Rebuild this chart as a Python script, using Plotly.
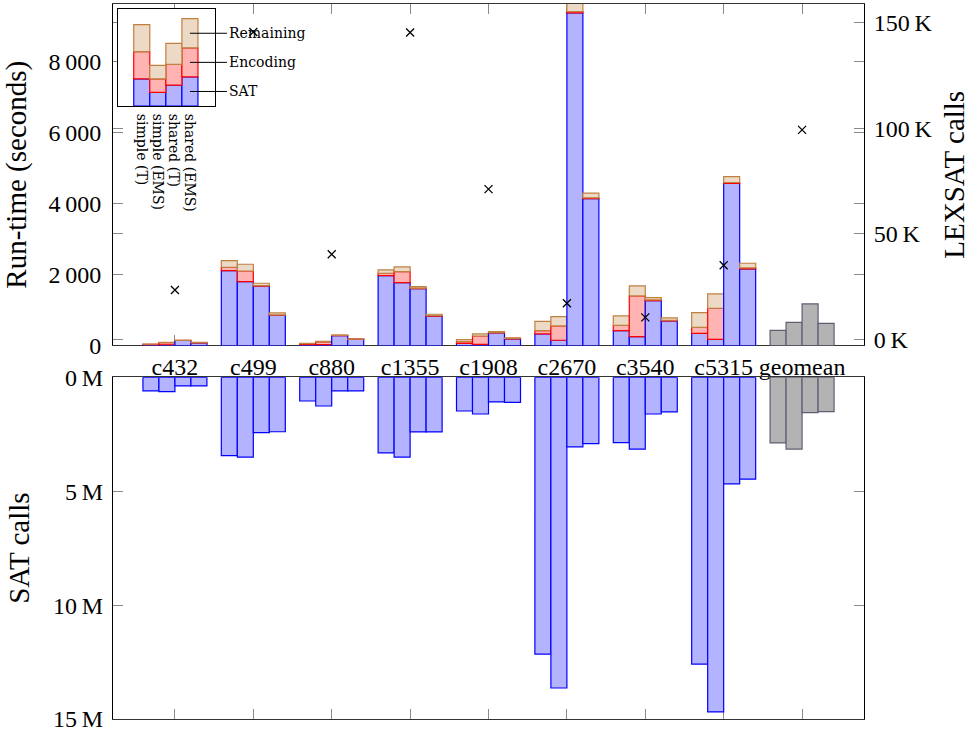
import numpy as np
import plotly.graph_objects as go

# ---------------- data ----------------
categories = ["c432", "c499", "c880", "c1355", "c1908", "c2670", "c3540", "c5315"]
x_labels = categories + ["geomean"]
configs = ["simple (T)", "simple (EMS)", "shared (T)", "shared (EMS)"]

# run-time (seconds) components, one row per config
sat_time = [
    [15, 2111, 20, 1970, 62, 325, 418, 343],
    [20, 1800, 25, 1773, 34, 147, 249, 174],
    [140, 1670, 280, 1600, 353, 9375, 1265, 4567],
    [75, 852, 175, 830, 183, 4143, 691, 2159],
]
enc_time = [
    [20, 95, 30, 67, 45, 93, 151, 170],
    [60, 300, 75, 310, 234, 403, 1148, 876],
    [3, 15, 5, 15, 10, 40, 20, 28],
    [5, 10, 3, 10, 15, 20, 20, 28],
]
rem_time = [
    [5, 187, 12, 94, 58, 264, 263, 413],
    [10, 190, 18, 132, 57, 263, 282, 403],
    [5, 70, 11, 45, 27, 600, 64, 168],
    [10, 55, 5, 40, 14, 130, 65, 132],
]
geomean_time = [428, 654, 1171, 626]

# SAT calls (millions)
sat_calls_m = [
    [0.60, 3.44, 1.04, 3.32, 1.48, 12.15, 2.87, 12.59],
    [0.63, 3.50, 1.26, 3.50, 1.61, 13.64, 3.15, 14.69],
    [0.38, 2.43, 0.60, 2.40, 1.08, 3.05, 1.61, 4.68],
    [0.38, 2.39, 0.60, 2.40, 1.10, 2.91, 1.52, 4.47],
]
geomean_calls_m = [2.88, 3.15, 1.55, 1.51]

# LEXSAT calls (thousands), incl. geomean
lexsat_k = [23.4, 145.7, 40.3, 145.5, 71.2, 17.1, 10.4, 35.1, 99.3]

# legend inset: schematic segment heights per config bar
legend_seg = [2.8, 1.4, 2.15, 3.0]
legend_parts = ["SAT", "Encoding", "Remaining"]

# tick labels
rt_ticks = [0, 2000, 4000, 6000, 8000]
rt_ticktext = ["0", "2\u2009000", "4\u2009000", "6\u2009000", "8\u2009000"]
lx_ticks = [0, 50, 100, 150]
lx_ticktext = ["0\u2009K", "50\u2009K", "100\u2009K", "150\u2009K"]
sc_ticks = [0, 5, 10, 15]
sc_ticktext = ["0\u2009M", "5\u2009M", "10\u2009M", "15\u2009M"]

# ---------------- style ----------------
FONT = "Liberation Serif"
SMALL = "DejaVu Serif"
BW = 0.2041
FILL = {"SAT": "#b3b3ff", "Encoding": "#ffb3b3", "Remaining": "#ecd9c6"}
EDGE = {"SAT": "#0000ff", "Encoding": "#ff0000", "Remaining": "#bf8040"}
GFILL, GEDGE = "#b3b3b3", "#5e5e72"
TICKC = "#8a8a8a"

fig = go.Figure()
idx = np.arange(len(categories))

for k, cfg in enumerate(configs):
    xs = idx + (k - 1.5) * BW
    s = np.array(sat_time[k], float)
    e = np.array(enc_time[k], float)
    r = np.array(rem_time[k], float)
    for name, val, base in (("SAT", s, np.zeros_like(s)), ("Encoding", e, s), ("Remaining", r, s + e)):
        fig.add_trace(go.Bar(x=xs, y=val, base=base, width=BW, xaxis="x", yaxis="y",
                             marker=dict(color=FILL[name], line=dict(color=EDGE[name], width=1.2)),
                             showlegend=False, name=name))
    fig.add_trace(go.Bar(x=xs, y=sat_calls_m[k], width=BW, xaxis="x2", yaxis="y3",
                         marker=dict(color=FILL["SAT"], line=dict(color=EDGE["SAT"], width=1.2)),
                         showlegend=False, name="SAT calls"))

gx = len(categories) + (np.arange(4) - 1.5) * BW
fig.add_trace(go.Bar(x=gx, y=geomean_time, width=BW, xaxis="x", yaxis="y",
                     marker=dict(color=GFILL, line=dict(color=GEDGE, width=1.2)), showlegend=False))
fig.add_trace(go.Bar(x=gx, y=geomean_calls_m, width=BW, xaxis="x2", yaxis="y3",
                     marker=dict(color=GFILL, line=dict(color=GEDGE, width=1.2)), showlegend=False))

fig.add_trace(go.Scatter(x=np.arange(len(x_labels)), y=lexsat_k, mode="markers", xaxis="x", yaxis="y2",
                         marker=dict(symbol="x-thin", size=8, line=dict(color="black", width=1.3)),
                         showlegend=False, cliponaxis=False))

# legend inset bars
lb = np.zeros(4)
for name in legend_parts:
    fig.add_trace(go.Bar(x=np.arange(4), y=legend_seg, base=lb.copy(), width=1.0, xaxis="x3", yaxis="y4",
                         marker=dict(color=FILL[name], line=dict(color=EDGE[name], width=1.2)),
                         showlegend=False))
    center = lb[3] + legend_seg[3] / 2
    fig.add_annotation(x=3, y=center, xref="x3", yref="y4", text=name, showarrow=True,
                       arrowhead=0, arrowwidth=1, arrowcolor="black", ax=37, ay=0,
                       xanchor="left", font=dict(family=SMALL, size=14, color="black"))
    lb = lb + np.array(legend_seg)

xrange = [-0.79, 8.79]
common_x = dict(range=xrange, tickvals=list(range(len(x_labels))), ticks="inside", ticklen=10,
                tickcolor=TICKC, showline=True, linecolor="#333", linewidth=1, mirror="ticks",
                showgrid=False, zeroline=False, layer="below traces", automargin=False)

fig.update_layout(
    width=972, height=734, margin=dict(l=113, r=108, t=4, b=15, autoexpand=False),
    paper_bgcolor="white", plot_bgcolor="white", barmode="overlay",
    font=dict(family=FONT, size=24, color="black"),
    xaxis=dict(**common_x, domain=[0, 1], anchor="y", ticktext=x_labels, ticklabelstandoff=0),
    yaxis=dict(domain=[0.5224, 1], range=[0, 9627], tickvals=rt_ticks, ticktext=rt_ticktext,
               ticks="inside", ticklen=10, tickcolor=TICKC, showline=True, linecolor="black",
               mirror="ticks", showgrid=False, zeroline=False, ticklabelstandoff=6, automargin=False,
               title=dict(text="Run-time (seconds)", standoff=14)),
    yaxis2=dict(overlaying="y", side="right", anchor="x", range=[-2.94, 159], tickvals=lx_ticks,
                ticktext=lx_ticktext, ticks="inside", ticklen=10, tickcolor=TICKC, showline=True,
                linecolor="black", mirror="ticks", showgrid=False, zeroline=False, ticklabelstandoff=4,
                automargin=False, title=dict(text="LEXSAT calls", standoff=12)),
    xaxis2=dict(**common_x, domain=[0, 1], anchor="y3", ticktext=x_labels, showticklabels=False),
    yaxis3=dict(domain=[0, 0.4779], anchor="x2", range=[15, 0], tickvals=sc_ticks, ticktext=sc_ticktext,
                ticks="inside", ticklen=10, tickcolor=TICKC, showline=True, linecolor="black",
                mirror="ticks", showgrid=False, zeroline=False, ticklabelstandoff=4, automargin=False,
                title=dict(text="SAT calls", standoff=14)),
    xaxis3=dict(domain=[0.00666, 0.1358], anchor="y4", range=[-1.48, 4.56], tickvals=list(range(4)),
                ticktext=configs, tickangle=90, ticks="", showline=True, linecolor="black", mirror=True,
                showgrid=False, zeroline=False, tickfont=dict(family=SMALL, size=14), ticklabelstandoff=4,
                automargin=False),
    yaxis4=dict(domain=[0.8573, 0.993], anchor="x3", range=[0, 10], showticklabels=False, ticks="",
                showline=True, linecolor="black", mirror=True, showgrid=False, zeroline=False,
                automargin=False),
)

fig.write_html("out.html", config={"displayModeBar": False},
               post_script="document.body.style.margin='0';")
